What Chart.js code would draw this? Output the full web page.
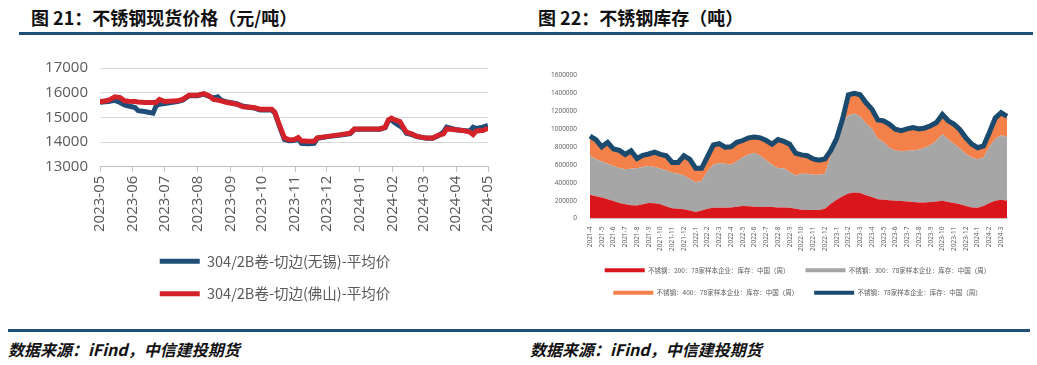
<!DOCTYPE html>
<html>
<head>
<meta charset="utf-8">
<script src="https://cdn.jsdelivr.net/npm/chart.js@4/dist/chart.umd.min.js"></script>
<style>
body{margin:0;width:1037px;height:365px;background:#fff;position:relative;overflow:hidden;font-family:"Noto Sans CJK SC",sans-serif}
.title{position:absolute;top:4px;font-size:18px;font-weight:bold;color:#111}
.rule{position:absolute;height:3px;background:#1f4e79}
.src{position:absolute;top:337px;font-size:16px;font-weight:bold;font-style:italic;color:#111}
.box{position:absolute}
</style>
</head>
<body>
<div class="title" style="left:31px">图 21：不锈钢现货价格（元/吨）</div>
<div class="title" style="left:538px">图 22：不锈钢库存（吨）</div>
<div class="rule" style="left:19px;width:501px;top:32px"></div>
<div class="rule" style="left:520px;width:513px;top:32px"></div>
<div class="box" style="left:20px;top:47px;width:490px;height:264px"><canvas id="c1"></canvas></div>
<div class="box" style="left:540px;top:62px;width:480px;height:244px"><canvas id="c2"></canvas></div>
<div class="rule" style="left:8px;width:1022px;top:329px"></div>
<div class="src" style="left:8px">数据来源：iFind，中信建投期货</div>
<div class="src" style="left:530px">数据来源：iFind，中信建投期货</div>
<script>
// 图21 现货价格
const priceMonths = ['2023-05','2023-06','2023-07','2023-08','2023-09','2023-10','2023-11','2023-12','2024-01','2024-02','2024-03','2024-04','2024-05'];
const priceDates = ['2023-05-01','2023-05-03','2023-05-09','2023-05-15','2023-05-20','2023-05-24','2023-05-28','2023-06-03','2023-06-06','2023-06-12',
  '2023-06-20','2023-06-23','2023-06-26','2023-07-01','2023-07-13','2023-07-18','2023-07-24','2023-08-01','2023-08-07','2023-08-12',
  '2023-08-16','2023-08-20','2023-08-23','2023-08-29','2023-09-07','2023-09-13','2023-09-23','2023-09-29','2023-10-10','2023-10-13',
  '2023-10-18','2023-10-22','2023-10-26','2023-10-31','2023-11-04','2023-11-07','2023-11-13','2023-11-19','2023-11-22','2023-12-02',
  '2023-12-14','2023-12-23','2023-12-27','2024-01-05','2024-01-20','2024-01-25','2024-01-28','2024-01-31','2024-02-03','2024-02-08',
  '2024-02-11','2024-02-14','2024-02-19','2024-02-24','2024-03-04','2024-03-10','2024-03-15','2024-03-20','2024-03-23','2024-04-01',
  '2024-04-07','2024-04-14','2024-04-17','2024-04-20','2024-04-26','2024-05-01'];
const wuxi = [15600,15620,15640,15690,15600,15500,15460,15400,15270,15240,
  15170,15470,15530,15560,15640,15700,15880,15880,15940,15850,
  15780,15830,15700,15620,15550,15450,15380,15300,15300,15170,
  14550,14100,14050,14060,14130,13950,13930,13950,14150,14220,
  14280,14340,14520,14520,14520,14580,14870,14900,14780,14650,
  14550,14350,14300,14220,14150,14150,14250,14400,14600,14500,
  14470,14450,14600,14550,14600,14670];
const foshan = [15640,15640,15690,15830,15800,15670,15650,15640,15620,15600,
  15600,15600,15730,15640,15670,15730,15900,15900,15960,15870,
  15730,15700,15670,15600,15530,15430,15400,15330,15330,15200,
  14600,14170,14100,14090,14180,14050,14030,14030,14170,14230,
  14300,14360,14530,14530,14530,14600,14890,14970,14900,14830,
  14600,14400,14330,14230,14160,14160,14270,14330,14530,14500,
  14470,14400,14300,14450,14470,14560];

// 图22 库存 (半月, 千吨)
const invMonths = ['2021-4','2021-5','2021-6','2021-7','2021-8','2021-9','2021-10','2021-11','2021-12',
  '2022-1','2022-2','2022-3','2022-4','2022-5','2022-6','2022-7','2022-8','2022-9','2022-10','2022-11','2022-12',
  '2023-1','2023-2','2023-3','2023-4','2023-5','2023-6','2023-7','2023-8','2023-9','2023-10','2023-11','2023-12',
  '2024-1','2024-2','2024-3'];
const inv200 = [265,250,235,215,195,175,160,150,145,160,175,170,160,135,115,110,105,90,75,90,
  110,120,120,122,125,132,140,138,132,130,132,128,125,125,120,110,100,95,95,95,
  110,165,210,250,280,290,285,260,240,215,210,205,200,195,190,185,180,180,185,190,
  200,185,175,160,140,125,120,140,175,200,210,200];
const inv300 = [435,410,400,395,390,390,390,405,415,415,410,405,395,400,395,390,375,350,330,330,
  420,480,500,488,475,508,540,577,603,570,518,472,435,435,400,370,400,405,395,395,
  390,535,670,830,870,880,855,800,760,675,640,585,560,555,565,575,590,610,635,680,
  740,695,655,620,580,555,540,540,625,690,720,710];
const inv400 = [220,220,165,240,190,195,165,200,110,130,135,165,160,165,115,125,220,220,155,140,
  160,220,215,185,200,210,190,185,175,200,220,230,320,300,310,250,210,200,175,160,
  165,60,15,30,230,225,240,230,220,210,240,260,235,230,245,255,230,220,215,200,
  220,210,220,210,180,150,130,130,160,230,250,230];
const invTotal = inv200.map((v, i) => v + inv300[i] + inv400[i]);

const grey = '#595959';
const dayOf = s => (Date.parse(s) - Date.parse('2023-05-01')) / 86400000;
const lineLegend = chart => Chart.defaults.plugins.legend.labels.generateLabels(chart).map(l => {
  l.fillStyle = l.strokeStyle; l.lineWidth = 0; return l;
});
// 图例整体右移
const shiftLegend = dx => ({
  id: 'shiftLegend',
  afterLayout(chart) { chart.legend.left += dx; chart.legend.right += dx; }
});

new Chart(document.getElementById('c1'), {
  type: 'line',
  data: {
    datasets: [
      {label: '304/2B卷-切边(无锡)-平均价', data: priceDates.map((d, i) => ({x: dayOf(d), y: wuxi[i]})),
       borderColor: '#1f4e79', backgroundColor: '#1f4e79', borderWidth: 5, pointRadius: 0, order: 1},
      {label: '304/2B卷-切边(佛山)-平均价', data: priceDates.map((d, i) => ({x: dayOf(d), y: foshan[i]})),
       borderColor: '#d3222a', backgroundColor: '#d3222a', borderWidth: 5, pointRadius: 0, order: 0}
    ]
  },
  plugins: [shiftLegend(19)],
  options: {
    responsive: true, maintainAspectRatio: false, animation: false,
    layout: {padding: {top: 11, right: 18, left: 0, bottom: 0}},
    plugins: {
      tooltip: {enabled: false},
      legend: {position: 'bottom', labels: {boxWidth: 40, boxHeight: 5, padding: 18, color: grey,
        font: {size: 14.5, family: '"Noto Sans CJK SC", sans-serif'}, generateLabels: lineLegend,
        sort: (a, b) => a.datasetIndex - b.datasetIndex}}
    },
    scales: {
      x: {type: 'linear', min: 0, max: dayOf('2024-05-01'),
        afterBuildTicks: s => { s.ticks = priceMonths.map(m => ({value: dayOf(m + '-01')})); },
        ticks: {autoSkip: false, minRotation: 90, maxRotation: 90, color: grey, padding: 4,
          font: {size: 15, family: '"Open Sans", sans-serif'}, callback: (v, i) => priceMonths[i]},
        grid: {drawOnChartArea: false, tickLength: 5, color: '#bfbfbf'},
        border: {color: '#bfbfbf'}},
      y: {min: 13000, max: 17000,
        ticks: {stepSize: 1000, color: grey, padding: 12, font: {size: 15, family: '"Open Sans", sans-serif'},
          callback: v => String(v)},
        grid: {color: '#d9d9d9', drawTicks: false}, border: {display: false},
        afterFit: s => { s.width = 80; }}
    }
  }
});

const invLabels = [];
invMonths.forEach(m => { invLabels.push(m); invLabels.push(''); });

new Chart(document.getElementById('c2'), {
  type: 'line',
  data: {
    labels: invLabels,
    datasets: [
      {label: '不锈钢：78家样本企业：库存：中国（周）', data: invTotal.map(v => v * 1000), stack: 'total',
       borderColor: '#1a4a6e', backgroundColor: '#1a4a6e', borderWidth: 5, pointRadius: 0, fill: false},
      {label: '不锈钢：200：78家样本企业：库存：中国（周）', data: inv200.map(v => v * 1000), stack: 'inv',
       borderColor: '#d9161c', backgroundColor: '#d9161c', borderWidth: 0, pointRadius: 0, fill: 'origin'},
      {label: '不锈钢：300：78家样本企业：库存：中国（周）', data: inv300.map(v => v * 1000), stack: 'inv',
       borderColor: '#a6a6a6', backgroundColor: '#a6a6a6', borderWidth: 0, pointRadius: 0, fill: '-1'},
      {label: '不锈钢：400：78家样本企业：库存：中国（周）', data: inv400.map(v => v * 1000), stack: 'inv',
       borderColor: '#f4804a', backgroundColor: '#f4804a', borderWidth: 0, pointRadius: 0, fill: '-1'}
    ]
  },
  plugins: [shiftLegend(24)],
  options: {
    responsive: true, maintainAspectRatio: false, animation: false,
    layout: {padding: {top: 13, right: 13, left: 0, bottom: 0}},
    plugins: {
      tooltip: {enabled: false},
      legend: {position: 'bottom', labels: {boxWidth: 40, boxHeight: 4, padding: 16, color: grey,
        font: {size: 6.5, family: '"Noto Sans CJK SC", sans-serif'}, generateLabels: lineLegend,
        sort: (a, b) => ((a.datasetIndex + 3) % 4) - ((b.datasetIndex + 3) % 4)}}
    },
    scales: {
      x: {ticks: {autoSkip: false, minRotation: 90, maxRotation: 90, color: grey, padding: 0,
          font: {size: 6.5, family: '"Open Sans", sans-serif'}},
        grid: {display: false}, border: {color: '#d9d9d9'}},
      y: {stacked: true, min: 0, max: 1600000,
        ticks: {stepSize: 200000, color: grey, padding: 5, font: {size: 6.5, family: '"Open Sans", sans-serif'},
          callback: v => String(v)},
        grid: {display: false}, border: {display: false},
        afterFit: s => { s.width = 50; }}
    }
  }
});
</script>
</body>
</html>
